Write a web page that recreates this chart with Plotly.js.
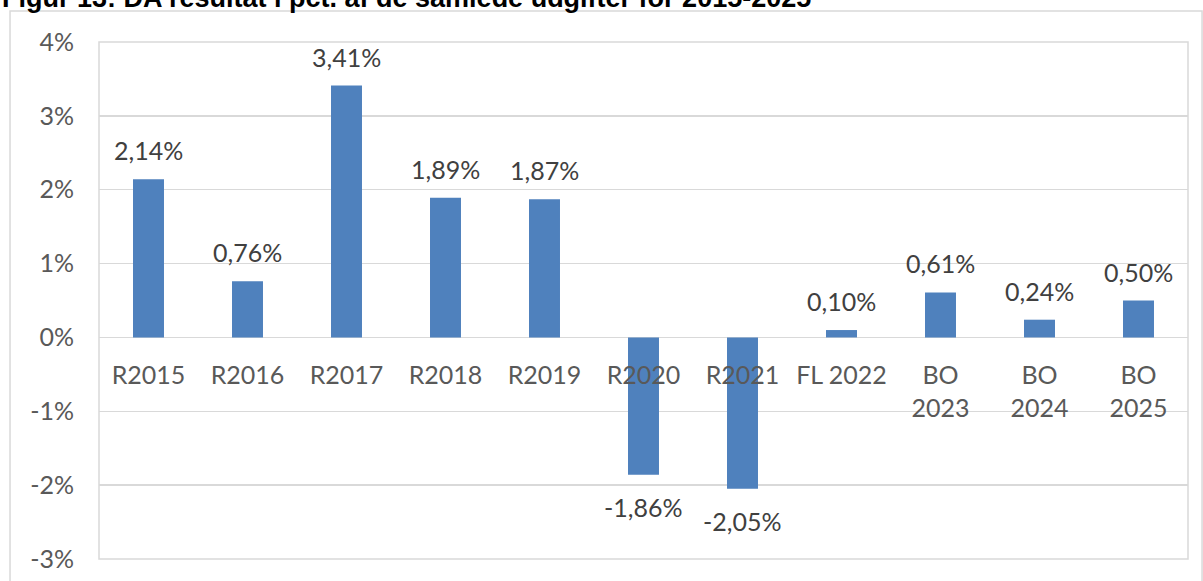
<!DOCTYPE html>
<html>
<head>
<meta charset="utf-8">
<script src="https://cdn.plot.ly/plotly-3.0.1.min.js"></script>
<style>html,body{margin:0;padding:0;background:#fff;}#chart{width:1203px;height:581px;}</style>
</head>
<body>
<div id="chart"></div>
<script>
// Data
var categories = ["R2015", "R2016", "R2017", "R2018", "R2019", "R2020", "R2021", "FL 2022", "BO 2023", "BO 2024", "BO 2025"];
var categoryLabels = ["R2015", "R2016", "R2017", "R2018", "R2019", "R2020", "R2021", "FL 2022", "BO<br>2023", "BO<br>2024", "BO<br>2025"];
var values = [2.14, 0.76, 3.41, 1.89, 1.87, -1.86, -2.05, 0.10, 0.61, 0.24, 0.50];
var valueLabels = ["2,14%", "0,76%", "3,41%", "1,89%", "1,87%", "-1,86%", "-2,05%", "0,10%", "0,61%", "0,24%", "0,50%"];
var yTickValues = [-3, -2, -1, 0, 1, 2, 3, 4];
var yTickLabels = ["-3%", "-2%", "-1%", "0%", "1%", "2%", "3%", "4%"];
var titleText = "Figur 13: DA resultat i pct. af de samlede udgifter for 2015-2025";

var FONT = "Lato, 'Open Sans', sans-serif";

var trace = {
  type: "bar",
  x: categories,
  y: values,
  marker: {color: "#4F81BD"},
  hoverinfo: "skip"
};

var annotations = values.map(function (v, i) {
  return {
    x: categories[i], y: v, xref: "x", yref: "y",
    text: valueLabels[i], showarrow: false,
    yanchor: "middle", xanchor: "center",
    yshift: v >= 0 ? 29 : -32,
    font: {family: FONT, size: 25, color: "#404040"}
  };
});

annotations.push({
  text: "<b>" + titleText + "</b>",
  xref: "paper", yref: "paper", x: -0.0909, y: 1, xanchor: "left", yanchor: "bottom",
  yshift: 27, showarrow: false,
  font: {family: "'Liberation Sans', Arial, sans-serif", size: 27, color: "#000000"}
});

var layout = {
  width: 1203, height: 581,
  margin: {l: 99, r: 15, t: 42, b: 22},
  paper_bgcolor: "#ffffff", plot_bgcolor: "#ffffff",
  showlegend: false,
  bargap: 0.687,
  xaxis: {
    type: "category",
    tickvals: categories, ticktext: categoryLabels,
    anchor: "free", position: (0 - (-3)) / (4 - (-3)),
    showgrid: false, zeroline: false, showline: false,
    ticks: "", ticklabelstandoff: 21,
    tickfont: {family: FONT, size: 25, color: "#595959"},
    fixedrange: true
  },
  yaxis: {
    range: [-3, 4],
    tickvals: yTickValues, ticktext: yTickLabels,
    showgrid: true, gridcolor: "#D9D9D9", gridwidth: 1.5,
    zeroline: false, showline: false,
    ticks: "", ticklabelstandoff: 24,
    tickfont: {family: FONT, size: 25, color: "#595959"},
    fixedrange: true
  },
  shapes: [
    {type: "rect", xref: "paper", yref: "paper", x0: 0, x1: 1, y0: 0, y1: 1,
     line: {color: "#D9D9D9", width: 1.5}, layer: "below"},
    {type: "rect", xref: "paper", yref: "paper", x0: -0.0817, x1: 1.0129, y0: -0.2, y1: 1.06,
     line: {color: "#D9D9D9", width: 1.5}, layer: "below"}
  ],
  annotations: annotations
};

Plotly.newPlot("chart", [trace], layout, {displayModeBar: false, staticPlot: true});
</script>
</body>
</html>
